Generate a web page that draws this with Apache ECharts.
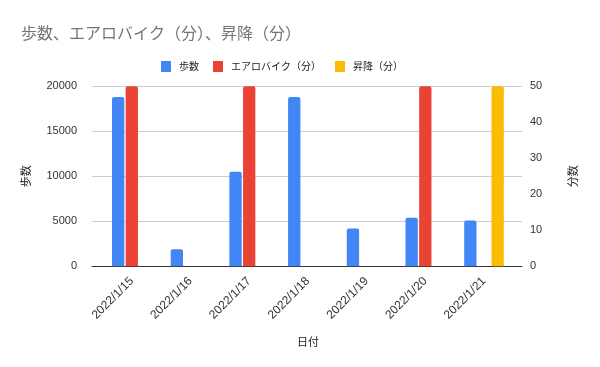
<!DOCTYPE html>
<html>
<head>
<meta charset="utf-8">
<script src="https://cdn.jsdelivr.net/npm/echarts@6/dist/echarts.min.js"></script>
<style>html,body{margin:0;padding:0;background:#fff}#c{width:600px;height:367px}</style>
</head>
<body>
<div id="c"></div>
<script>
const titleText = '歩数、エアロバイク（分）、昇降（分）';
const categories = ['2022/1/15','2022/1/16','2022/1/17','2022/1/18','2022/1/19','2022/1/20','2022/1/21'];
const seriesNames = ['歩数','エアロバイク（分）','昇降（分）'];
const steps = [18800, 1900, 10500, 18800, 4200, 5400, 5100];
const bike = [50, 0, 50, 0, 0, 50, 0];
const stairs = [0, 0, 0, 0, 0, 0, 50];
const leftTicks = [0, 5000, 10000, 15000, 20000];
const rightTicks = [0, 10, 20, 30, 40, 50];

const NARROW = "'Liberation Sans Narrow', 'Liberation Sans', Arial, sans-serif";
const LAT = "'Liberation Sans', Arial, sans-serif";
const CJK = "'Noto Sans CJK JP', sans-serif";
const chart = echarts.init(document.getElementById('c'), null, {renderer: 'canvas'});
const barCommon = {type: 'bar', xAxisIndex: 1, barWidth: 12.3, barGap: '11%', itemStyle: {borderRadius: [2, 2, 0, 0]}};
const plain = v => String(v);
chart.setOption({
  animation: false,
  backgroundColor: '#ffffff',
  title: {text: titleText, left: 16, top: 20, textStyle: {fontFamily: CJK, fontSize: 16, fontWeight: 'normal', color: '#757575'}},
  legend: {
    left: 156, top: 56, itemWidth: 10, itemHeight: 11, itemGap: 14, icon: 'rect',
    data: seriesNames,
    textStyle: {fontFamily: CJK, fontSize: 10, color: '#222', padding: [0, 0, 0, 3]}
  },
  color: ['#4285F4', '#EA4335', '#FBBC04'],
  grid: [
    {left: 92, right: 78, top: 86.3, bottom: 100.7, containLabel: false},
    {left: 102.45, right: 86.65, top: 86.3, bottom: 100.7, containLabel: false}
  ],
  xAxis: [
    {gridIndex: 0, type: 'value', min: 0, max: 1, axisLine: {show: true, lineStyle: {color: '#333', width: 1}}, axisTick: {show: false}, axisLabel: {show: false}, splitLine: {show: false}},
    {gridIndex: 1, type: 'category', data: categories, axisLine: {show: false}, axisTick: {show: false},
      axisLabel: {rotate: 45, margin: 13, fontFamily: LAT, fontSize: 12, color: '#333', interval: 0},
      name: '日付', nameLocation: 'middle', nameGap: 70, nameTextStyle: {fontFamily: CJK, fontSize: 11, color: '#222'}}
  ],
  yAxis: [
    {gridIndex: 0, type: 'value', position: 'left', min: leftTicks[0], max: leftTicks[leftTicks.length - 1], interval: leftTicks[1] - leftTicks[0],
      axisLine: {show: false}, axisTick: {show: false},
      axisLabel: {margin: 15, fontFamily: NARROW, fontSize: 11, color: '#333', formatter: plain},
      splitLine: {lineStyle: {color: '#cccccc', width: 1}},
      name: '歩数', nameLocation: 'middle', nameGap: 61, nameTextStyle: {fontFamily: CJK, fontSize: 11, color: '#222'}},
    {gridIndex: 0, type: 'value', position: 'right', min: rightTicks[0], max: rightTicks[rightTicks.length - 1], interval: rightTicks[1] - rightTicks[0],
      axisLine: {show: false}, axisTick: {show: false},
      axisLabel: {margin: 8, fontFamily: LAT, fontSize: 11, color: '#333', formatter: plain},
      splitLine: {show: false},
      name: '分数', nameLocation: 'middle', nameGap: 45, nameTextStyle: {fontFamily: CJK, fontSize: 11, color: '#222'}},
    {gridIndex: 1, type: 'value', min: leftTicks[0], max: leftTicks[leftTicks.length - 1], show: false},
    {gridIndex: 1, type: 'value', min: rightTicks[0], max: rightTicks[rightTicks.length - 1], show: false}
  ],
  series: [
    Object.assign({}, barCommon, {name: seriesNames[0], yAxisIndex: 2, data: steps}),
    Object.assign({}, barCommon, {name: seriesNames[1], yAxisIndex: 3, data: bike}),
    Object.assign({}, barCommon, {name: seriesNames[2], yAxisIndex: 3, data: stairs})
  ]
});
</script>
</body>
</html>
